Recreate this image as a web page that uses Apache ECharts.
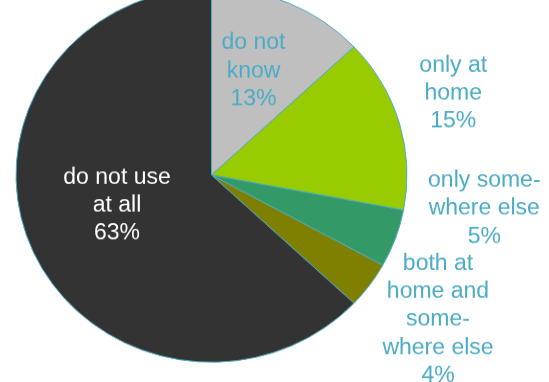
<!DOCTYPE html>
<html>
<head>
<meta charset="utf-8">
<script src="https://cdn.jsdelivr.net/npm/echarts@6/dist/echarts.min.js"></script>
<style>
  html, body { margin: 0; padding: 0; background: #ffffff; overflow: hidden; }
  #wrap { width: 549px; height: 382px; overflow: hidden; }
  /* the chart is drawn slightly taller and compressed vertically to an oval pie */
  #chart { width: 549px; height: 399px; transform: scaleY(0.9574); transform-origin: 0 0; }
</style>
</head>
<body>
<div id="wrap"><div id="chart"></div></div>
<script>
// Where internet is used (share of respondents, %)
const categories = [
  'do not\nknow',
  'only at\nhome',
  'only some-\nwhere else',
  'both at\nhome and\nsome-\nwhere else',
  'do not use\nat all'
];
const values = [13, 15, 5, 4, 63];

// slice styling, in the same order as the categories
const sliceColors = ['#BFBFBF', '#99CC00', '#339966', '#808000', '#333333'];
const labelColors = ['#4BACC6', '#4BACC6', '#4BACC6', '#4BACC6', '#FFFFFF'];
const labelOffsets = [[2, -16], [145, -57], [178, 1], [145, 92], [-2, -8]];

const chart = echarts.init(document.getElementById('chart'), null, { renderer: 'canvas' });

chart.setOption({
  animation: false,
  backgroundColor: '#ffffff',
  series: [{
    type: 'pie',
    center: [211.5, 182.8],
    radius: [0, 195.5],
    startAngle: 90,
    clockwise: true,
    avoidLabelOverlap: false,
    emphasis: { disabled: true },
    itemStyle: { borderColor: '#4BACC6', borderWidth: 1 },
    label: {
      show: true,
      position: 'inside',
      formatter: '{b}\n{c}%',
      fontFamily: '"Liberation Sans", Arial, sans-serif',
      fontSize: 23,
      lineHeight: 29.3,
      align: 'center'
    },
    labelLayout: { hideOverlap: false },
    labelLine: { show: false },
    data: categories.map((name, i) => ({
      name: name,
      value: values[i],
      itemStyle: { color: sliceColors[i] },
      label: { color: labelColors[i], offset: labelOffsets[i] }
    }))
  }]
});
</script>
</body>
</html>
